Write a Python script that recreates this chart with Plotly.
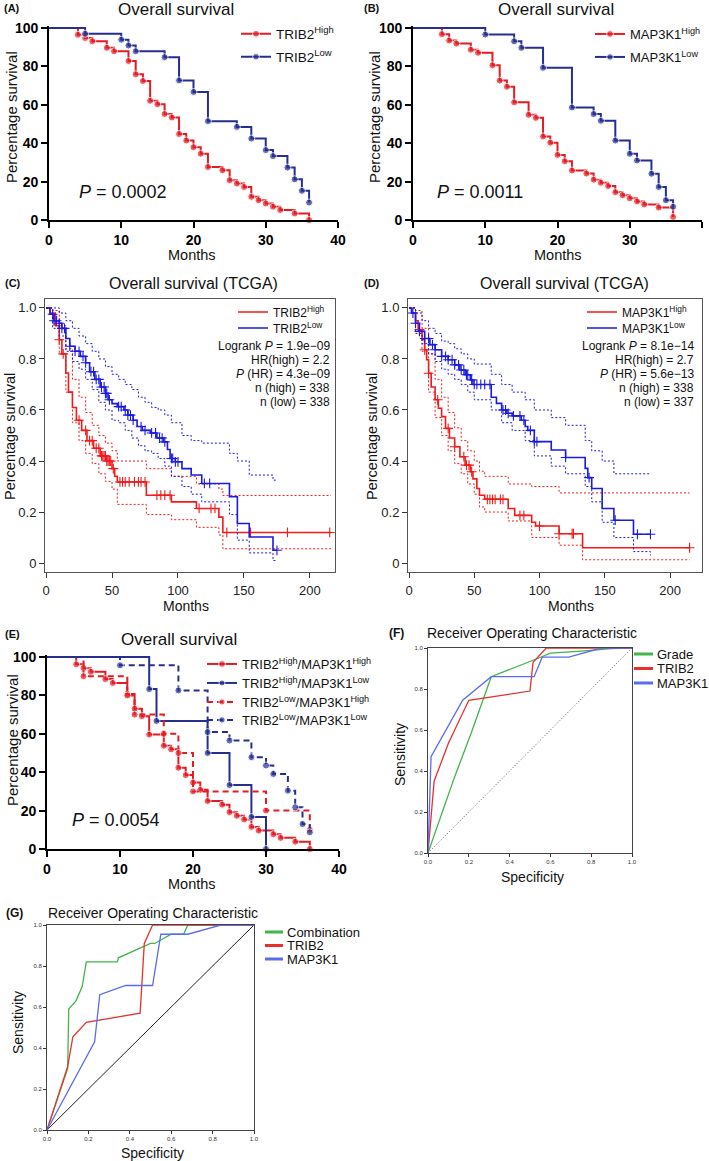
import numpy as np
import plotly.graph_objects as go

W, H = 709, 1161
FONT = "Liberation Sans, Arial, Helvetica, sans-serif"

RED = "#e31b23"
BLUE = "#262f8f"
TRED = "#f21a1a"
TBLUE = "#1a1ae0"
R_GREEN = "#3fb54a"
R_RED = "#e8302c"
R_BLUE = "#5b6bf2"

# ---------------- data ----------------
km_xticks = [0, 10, 20, 30, 40]
km_yticks = [0, 20, 40, 60, 80, 100]

# (A) TRIB2
a_high_t = [0, 4, 5, 6, 8, 9, 11, 12, 13, 14, 15, 16, 17, 18, 19, 20, 21, 22, 24, 25, 26, 27, 28, 29, 30, 31, 32, 34, 36]
a_high_s = [100, 96.5, 94.8, 93.1, 89.7, 87.9, 82.8, 75.9, 72.4, 62.1, 60.3, 55.2, 53.4, 44.8, 41.4, 37.9, 34.5, 27.6, 25.9, 20.7, 19.0, 17.2, 12.1, 10.3, 8.6, 6.9, 5.2, 3.4, 0]
a_low_t = [0, 5, 10, 11, 12, 16, 18, 20, 22, 26, 28, 30, 31, 33, 34, 35, 36]
a_low_s = [100, 97.0, 93.9, 90.9, 87.9, 84.8, 72.7, 66.7, 51.5, 48.5, 42.4, 36.4, 33.3, 27.3, 21.2, 15.2, 9.1]

# (B) MAP3K1
b_high_t = [0, 4, 5, 6, 8, 9, 11, 12, 13, 14, 16, 17, 18, 19, 20, 21, 22, 24, 25, 26, 27, 28, 29, 30, 31, 32, 34, 36]
b_high_s = [100, 96.8, 93.5, 91.9, 88.7, 87.1, 80.6, 72.6, 69.4, 61.3, 54.8, 53.2, 43.5, 40.3, 33.9, 30.6, 25.8, 24.2, 21.0, 19.4, 17.7, 14.5, 12.9, 11.3, 9.7, 8.1, 6.5, 1.6]
b_low_t = [0, 10, 14, 15, 18, 22, 25, 26, 28, 30, 31, 33, 34, 35, 36]
b_low_s = [100, 96.6, 93.1, 89.7, 79.3, 58.6, 55.2, 51.7, 41.4, 34.5, 31.0, 24.1, 17.2, 10.3, 6.9]

# (C) TCGA TRIB2
tcga_xticks = [0, 50, 100, 150, 200]
tcga_yticks = [0, 0.2, 0.4, 0.6, 0.8, 1.0]
tcga_yticktext = ["0", "0.2", "0.4", "0.6", "0.8", "1.0"]
c_high_t = [0, 3, 7, 10, 12, 15, 17, 20, 23, 27, 31, 36, 41, 46, 50, 52, 54, 76, 95, 114, 131, 134, 216]
c_high_s = [1.0, 0.98, 0.93, 0.875, 0.82, 0.745, 0.67, 0.61, 0.56, 0.52, 0.48, 0.45, 0.42, 0.40, 0.37, 0.34, 0.318, 0.266, 0.24, 0.214, 0.18, 0.12, 0.12]
c_low_t = [0, 3, 6, 10, 12, 15, 18, 22, 26, 30, 33, 37, 41, 45, 47, 50, 54, 59, 62, 66, 69, 73, 79, 84, 89, 92, 94, 98, 103, 110, 118, 139, 145, 154, 172, 175]
c_low_s = [1.0, 0.975, 0.95, 0.94, 0.92, 0.88, 0.85, 0.83, 0.81, 0.785, 0.75, 0.72, 0.69, 0.665, 0.64, 0.625, 0.613, 0.60, 0.58, 0.56, 0.535, 0.52, 0.51, 0.49, 0.475, 0.445, 0.41, 0.397, 0.37, 0.345, 0.312, 0.26, 0.155, 0.102, 0.05, 0.05]
c_ci_t_high = [0, 5, 10, 15, 20, 25, 30, 35, 40, 45, 50, 54, 76, 95, 114, 131, 134, 216]
c_high_up = [1.0, 0.99, 0.93, 0.84, 0.72, 0.65, 0.59, 0.54, 0.50, 0.47, 0.44, 0.40, 0.37, 0.34, 0.31, 0.29, 0.265, 0.265]
c_high_lo = [1.0, 0.94, 0.82, 0.67, 0.55, 0.48, 0.43, 0.39, 0.35, 0.32, 0.29, 0.23, 0.19, 0.17, 0.14, 0.11, 0.056, 0.056]
c_ci_t_low = [0, 5, 10, 15, 20, 25, 30, 35, 40, 45, 50, 55, 60, 65, 70, 75, 80, 85, 90, 95, 103, 110, 118, 139, 145, 154, 172, 175]
c_low_up = [1.0, 1.0, 0.98, 0.95, 0.92, 0.89, 0.86, 0.83, 0.80, 0.77, 0.74, 0.72, 0.70, 0.68, 0.65, 0.63, 0.61, 0.60, 0.58, 0.55, 0.50, 0.48, 0.47, 0.43, 0.40, 0.345, 0.325, 0.325]
c_low_lo = [1.0, 0.92, 0.89, 0.83, 0.79, 0.76, 0.72, 0.68, 0.63, 0.60, 0.56, 0.55, 0.52, 0.49, 0.46, 0.44, 0.43, 0.41, 0.38, 0.34, 0.30, 0.27, 0.24, 0.19, 0.09, 0.04, 0.01, 0.01]
c_high_cens = [10, 13, 25, 30, 33, 35, 38, 40, 42, 43, 44, 45, 46, 47, 48, 49, 51, 56, 58, 60, 63, 67, 70, 72, 75, 84, 87, 90, 94, 116, 125, 128, 137, 155, 183, 215]
c_low_cens = [5, 6, 8, 10, 12, 14, 18, 22, 25, 28, 30, 34, 36, 38, 40, 42, 44, 45, 46, 48, 55, 57, 60, 62, 64, 66, 72, 75, 80, 83, 86, 88, 90, 95, 96, 98, 100, 120, 124, 175]
c_stats = ["Logrank <i>P</i> = 1.9e\u221209", "HR(high) = 2.2", "<i>P</i> (HR) = 4.3e\u221209", "n (high) = 338", "n (low) = 338"]

# (D) TCGA MAP3K1
d_high_t = [0, 2, 5, 7, 10, 12, 13.5, 15, 17, 20, 22.5, 25, 28, 31, 35, 39, 43, 47, 49, 52, 54, 58, 76, 81, 94, 97, 115, 133, 215]
d_high_s = [1, 0.98, 0.95, 0.915, 0.875, 0.836, 0.797, 0.744, 0.69, 0.64, 0.607, 0.574, 0.528, 0.49, 0.456, 0.417, 0.384, 0.358, 0.33, 0.292, 0.266, 0.25, 0.214, 0.187, 0.16, 0.145, 0.115, 0.06, 0.06]
d_low_t = [0, 2, 5, 8, 12, 16, 20, 25, 30, 35, 39, 43, 47, 49, 63, 67, 71, 75, 79, 86, 89, 91, 96, 109, 120, 135, 137, 140, 148, 157, 172, 185]
d_low_s = [1, 0.98, 0.94, 0.908, 0.88, 0.856, 0.836, 0.81, 0.797, 0.777, 0.757, 0.738, 0.718, 0.70, 0.65, 0.626, 0.60, 0.587, 0.577, 0.56, 0.535, 0.52, 0.476, 0.443, 0.414, 0.371, 0.335, 0.292, 0.214, 0.168, 0.113, 0.113]
d_ci_t_high = [0, 5, 10, 15, 20, 25, 30, 35, 40, 45, 50, 54, 58, 76, 94, 115, 133, 215]
d_high_up = [1.0, 0.99, 0.92, 0.82, 0.72, 0.65, 0.59, 0.53, 0.48, 0.44, 0.40, 0.36, 0.34, 0.31, 0.30, 0.275, 0.275, 0.275]
d_high_lo = [1.0, 0.91, 0.83, 0.67, 0.57, 0.50, 0.44, 0.39, 0.35, 0.31, 0.27, 0.22, 0.20, 0.165, 0.10, 0.07, 0.013, 0.013]
d_ci_t_low = [0, 5, 10, 15, 20, 25, 30, 35, 40, 45, 50, 63, 71, 79, 89, 96, 109, 120, 135, 140, 148, 157, 172, 185]
d_low_up = [1.0, 0.98, 0.95, 0.92, 0.90, 0.87, 0.86, 0.84, 0.82, 0.80, 0.78, 0.74, 0.70, 0.67, 0.64, 0.60, 0.57, 0.54, 0.48, 0.44, 0.40, 0.35, 0.35, 0.35]
d_low_lo = [1.0, 0.90, 0.86, 0.82, 0.79, 0.76, 0.74, 0.72, 0.70, 0.67, 0.64, 0.60, 0.55, 0.52, 0.48, 0.42, 0.38, 0.35, 0.30, 0.24, 0.16, 0.10, 0.045, 0.03]
d_high_cens = [8, 12, 15, 22, 30, 35, 42, 44, 46, 48, 60, 62, 64, 66, 70, 72, 85, 88, 100, 115, 125, 126, 215]
d_low_cens = [3, 5, 8, 12, 15, 18, 20, 25, 28, 30, 33, 35, 38, 40, 42, 44, 45, 48, 50, 52, 55, 58, 62, 72, 74, 76, 80, 85, 88, 93, 96, 98, 120, 138, 158, 175, 185]
d_stats = ["Logrank <i>P</i> = 8.1e\u221214", "HR(high) = 2.7", "<i>P</i> (HR) = 5.6e\u221213", "n (high) = 338", "n (low) = 337"]

# (E) combined groups
e_hh_t = [0, 4, 5, 6, 8, 9, 11, 12, 13, 14, 16, 17, 18, 19, 20, 21, 22, 24, 25, 26, 27, 28, 29, 31, 32, 34, 36]
e_hh_s = [100, 96.2, 94.2, 92.3, 88.5, 86.5, 80.8, 73.1, 69.2, 59.6, 53.8, 51.9, 42.3, 38.5, 34.6, 30.8, 25.0, 23.1, 19.2, 17.3, 15.4, 11.5, 9.6, 7.7, 5.8, 3.8, 0]
e_hl_t = [0, 14, 15, 22, 25, 28, 30]
e_hl_s = [100, 83.3, 66.7, 50.0, 33.3, 16.7, 0]
e_lh_t = [0, 5, 11, 12, 16, 18, 20, 30, 36]
e_lh_s = [100, 90, 80, 70, 60, 50, 30, 20, 10]
e_ll_t = [0, 10, 18, 22, 25, 28, 30, 31, 33, 34, 35, 36]
e_ll_s = [100, 95.7, 82.6, 60.9, 56.5, 47.8, 43.5, 39.1, 30.4, 21.7, 13.0, 8.7]

# (F) ROC
roc_ticks = [0, 0.2, 0.4, 0.6, 0.8, 1.0]
roc_ticktext = ["0.0", "0.2", "0.4", "0.6", "0.8", "1.0"]
diag = [0, 1]
f_grade_x = [0, 0.13, 0.21, 0.26, 0.31, 0.54, 0.60, 0.75, 0.90, 1.0]
f_grade_y = [0, 0.37, 0.58, 0.72, 0.86, 0.95, 0.975, 0.985, 0.997, 1.0]
f_trib2_x = [0, 0.03, 0.10, 0.20, 0.50, 0.515, 0.58, 1.0]
f_trib2_y = [0, 0.35, 0.535, 0.745, 0.79, 0.93, 1.0, 1.0]
f_map_x = [0, 0.015, 0.17, 0.31, 0.52, 0.56, 0.69, 0.85, 1.0]
f_map_y = [0, 0.47, 0.745, 0.86, 0.86, 0.955, 0.955, 1.0, 1.0]

# (G) ROC
g_comb_x = [0, 0.10, 0.105, 0.14, 0.17, 0.19, 0.34, 0.345, 0.50, 0.52, 0.60, 0.66, 0.68, 1.0]
g_comb_y = [0, 0.30, 0.59, 0.63, 0.70, 0.82, 0.82, 0.84, 0.91, 0.91, 0.955, 0.955, 1.0, 1.0]
g_trib2_x = [0, 0.10, 0.125, 0.19, 0.45, 0.47, 0.51, 1.0]
g_trib2_y = [0, 0.31, 0.455, 0.525, 0.57, 0.91, 1.0, 1.0]
g_map_x = [0, 0.23, 0.255, 0.38, 0.51, 0.55, 0.68, 0.84, 1.0]
g_map_y = [0, 0.43, 0.66, 0.705, 0.705, 0.955, 0.955, 1.0, 1.0]


# ---------------- helpers ----------------
def PX(x):
    return x / W


def PY(y):
    return 1 - y / H


def dom_x(a, b):
    return [a / W, b / W]


def dom_y(top, bottom):
    return [1 - bottom / H, 1 - top / H]


def step_at(t, s, times):
    idx = np.searchsorted(np.array(t), np.array(times), side="right") - 1
    return list(np.array(s)[idx])


fig = go.Figure()
legends = {}
leg_count = [0]


def new_legend(left_px, cy_px, size):
    leg_count[0] += 1
    key = "legend" if leg_count[0] == 1 else "legend%d" % leg_count[0]
    legends[key] = dict(x=PX(left_px), y=PY(cy_px), xanchor="left", yanchor="middle",
                        bgcolor="rgba(0,0,0,0)", borderwidth=0,
                        font=dict(family=FONT, size=size, color="#111"))
    return key


def km_trace(t, s, color, name, ax, leg, dash="solid"):
    sizes = [0] + [7] * (len(t) - 1)
    fig.add_trace(go.Scatter(
        x=t, y=s, mode="lines+markers", name=name,
        line=dict(shape="hv", color=color, width=2, dash=dash),
        marker=dict(size=sizes, color=color, symbol="circle"),
        xaxis="x" + ax, yaxis="y" + ax, legend=leg, cliponaxis=False, showlegend=True))


def tcga_trace(t, s, ci_t, up, lo, cens, color, name, ax, leg):
    for arr in (up, lo):
        fig.add_trace(go.Scatter(x=ci_t, y=arr, mode="lines", showlegend=False,
                                 line=dict(shape="hv", color=color, width=1, dash="2px,2px"),
                                 xaxis="x" + ax, yaxis="y" + ax))
    fig.add_trace(go.Scatter(x=t, y=s, mode="lines", name=name, legend=leg,
                             line=dict(shape="hv", color=color, width=1.6),
                             xaxis="x" + ax, yaxis="y" + ax))
    fig.add_trace(go.Scatter(x=cens, y=step_at(t, s, cens), mode="markers", showlegend=False,
                             marker=dict(symbol="cross-thin", size=7, line=dict(color=color, width=1.1)),
                             xaxis="x" + ax, yaxis="y" + ax, cliponaxis=False))


def roc_trace(x, y, color, name, ax):
    fig.add_trace(go.Scatter(x=x, y=y, mode="lines", name=name, showlegend=False,
                             line=dict(color=color, width=1.3), xaxis="x" + ax, yaxis="y" + ax))


# ---------------- traces ----------------
# A
km_trace(a_high_t, a_high_s, RED, "TRIB2<sup>High</sup>", "", new_legend(236, 34, 13.5))
km_trace(a_low_t, a_low_s, BLUE, "TRIB2<sup>Low</sup>", "", new_legend(236, 57, 13.5))
# B
km_trace(b_high_t, b_high_s, RED, "MAP3K1<sup>High</sup>", "2", new_legend(590, 34, 13))
km_trace(b_low_t, b_low_s, BLUE, "MAP3K1<sup>Low</sup>", "2", new_legend(590, 57, 13))
# C
tcga_trace(c_high_t, c_high_s, c_ci_t_high, c_high_up, c_high_lo, c_high_cens, TRED, "TRIB2<sup>High</sup>", "3", new_legend(233, 312, 12))
tcga_trace(c_low_t, c_low_s, c_ci_t_low, c_low_up, c_low_lo, c_low_cens, TBLUE, "TRIB2<sup>Low</sup>", "3", new_legend(233, 328, 12))
# D
tcga_trace(d_high_t, d_high_s, d_ci_t_high, d_high_up, d_high_lo, d_high_cens, TRED, "MAP3K1<sup>High</sup>", "4", new_legend(582, 312, 12))
tcga_trace(d_low_t, d_low_s, d_ci_t_low, d_low_up, d_low_lo, d_low_cens, TBLUE, "MAP3K1<sup>Low</sup>", "4", new_legend(582, 328, 12))
# E
km_trace(e_hh_t, e_hh_s, RED, "TRIB2<sup>High</sup>/MAP3K1<sup>High</sup>", "5", new_legend(202, 664, 13))
km_trace(e_hl_t, e_hl_s, BLUE, "TRIB2<sup>High</sup>/MAP3K1<sup>Low</sup>", "5", new_legend(202, 683, 13))
km_trace(e_lh_t, e_lh_s, RED, "TRIB2<sup>Low</sup>/MAP3K1<sup>High</sup>", "5", new_legend(202, 702, 13), dash="6px,4px")
km_trace(e_ll_t, e_ll_s, BLUE, "TRIB2<sup>Low</sup>/MAP3K1<sup>Low</sup>", "5", new_legend(202, 720, 13), dash="6px,4px")
# F
fig.add_trace(go.Scatter(x=diag, y=diag, mode="lines", showlegend=False,
                         line=dict(color="#333", width=0.8, dash="1px,2px"), xaxis="x6", yaxis="y6"))
roc_trace(f_grade_x, f_grade_y, R_GREEN, "Grade", "6")
roc_trace(f_trib2_x, f_trib2_y, R_RED, "TRIB2", "6")
roc_trace(f_map_x, f_map_y, R_BLUE, "MAP3K1", "6")
# G
fig.add_trace(go.Scatter(x=diag, y=diag, mode="lines", showlegend=False,
                         line=dict(color="#222", width=1), xaxis="x7", yaxis="y7"))
roc_trace(g_comb_x, g_comb_y, R_GREEN, "Combination", "7")
roc_trace(g_trib2_x, g_trib2_y, R_RED, "TRIB2", "7")
roc_trace(g_map_x, g_map_y, R_BLUE, "MAP3K1", "7")

# ---------------- axes ----------------
def gp_x(dom, anchor):
    return dict(domain=dom, anchor=anchor, range=[0, 40], tickvals=km_xticks, ticks="outside",
                ticklen=6, tickwidth=1.6, tickcolor="black", showline=True, linewidth=1.8,
                linecolor="black", showgrid=False, zeroline=False,
                tickfont=dict(family=FONT, size=14, color="black", weight="bold"))


def gp_y(dom, anchor):
    return dict(domain=dom, anchor=anchor, range=[0, 101], tickvals=km_yticks, ticks="outside",
                ticklen=6, tickwidth=1.6, tickcolor="black", showline=True, linewidth=1.8,
                linecolor="black", showgrid=False, zeroline=False,
                tickfont=dict(family=FONT, size=14, color="black", weight="bold"))


def r_x(dom, anchor, rng):
    return dict(domain=dom, anchor=anchor, range=rng, tickvals=tcga_xticks, ticks="outside",
                ticklen=5, tickwidth=1, tickcolor="#333", showline=True, mirror=True, linewidth=1,
                linecolor="#555", showgrid=False, zeroline=False, ticklabelstandoff=1,
                tickfont=dict(family=FONT, size=13, color="#222"))


def r_y(dom, anchor):
    return dict(domain=dom, anchor=anchor, range=[-0.035, 1.035], tickvals=tcga_yticks,
                ticktext=tcga_yticktext, ticks="outside", ticklen=5, tickwidth=1, tickcolor="#333",
                showline=True, mirror=True, linewidth=1, linecolor="#555", showgrid=False,
                zeroline=False, tickfont=dict(family=FONT, size=13, color="#222"))


def s_ax(dom, anchor):
    return dict(domain=dom, anchor=anchor, range=[0, 1], tickvals=roc_ticks, ticktext=roc_ticktext,
                ticks="outside", ticklen=3, tickwidth=0.8, tickcolor="#333", showline=True,
                mirror=True, linewidth=1, linecolor="#444", showgrid=False, zeroline=False,
                tickfont=dict(family=FONT, size=6, color="#333"))


layout = dict(
    width=W, height=H, margin=dict(l=0, r=0, t=0, b=0, autoexpand=False),
    paper_bgcolor="white", plot_bgcolor="rgba(0,0,0,0)",
    font=dict(family=FONT, color="#111"), showlegend=True,
    xaxis=gp_x(dom_x(49, 338), "y"), yaxis=gp_y(dom_y(26.1, 220), "x"),
    xaxis2=gp_x(dom_x(413, 702), "y2"), yaxis2=gp_y(dom_y(26.1, 220), "x2"),
    xaxis3=r_x(dom_x(45, 335), "y3", [-0.8, 219]), yaxis3=r_y(dom_y(299, 572), "x3"),
    xaxis4=r_x(dom_x(408, 702), "y4", [-0.77, 224.5]), yaxis4=r_y(dom_y(299, 572), "x4"),
    xaxis5=gp_x(dom_x(47, 339), "y5"), yaxis5=gp_y(dom_y(655.1, 849), "x5"),
    xaxis6=s_ax(dom_x(428, 632), "y6"), yaxis6=s_ax(dom_y(648, 853), "x6"),
    xaxis7=s_ax(dom_x(47, 254), "y7"), yaxis7=s_ax(dom_y(925, 1130), "x7"),
)
layout.update(legends)

ann = []


def text(x, y, s, size, xanchor="center", bold=False, angle=0, color="#111", yanchor="middle"):
    ann.append(dict(x=PX(x), y=PY(y), xref="paper", yref="paper", text=s, showarrow=False,
                    xanchor=xanchor, yanchor=yanchor, textangle=angle,
                    font=dict(family=FONT, size=size, color=color, weight="bold" if bold else "normal")))


# A
text(2, 8, "(A)", 11, "left", bold=True)
text(176, 10, "Overall survival", 17)
text(77, 192, "<i>P</i> = 0.0002", 18, "left")
text(12, 117, "Percentage survival", 15, angle=-90)
text(192, 255, "Months", 14.5)
# B
text(362, 8, "(B)", 11, "left", bold=True)
text(556, 10, "Overall survival", 17)
text(435, 192, "<i>P</i> = 0.0011", 18, "left")
text(375, 117, "Percentage survival", 15, angle=-90)
text(558, 255, "Months", 14.5)
# C
text(3, 283, "(C)", 11, "left", bold=True)
text(193, 283, "Overall survival (TCGA)", 16)
text(10, 437, "Percentage survival", 14.5, angle=-90)
text(186, 606, "Months", 14)
for i, s in enumerate(c_stats):
    text(332, 346 + 14 * i, s, 12, "right")
# D
text(362, 283, "(D)", 11, "left", bold=True)
text(564, 283, "Overall survival (TCGA)", 16)
text(372, 437, "Percentage survival", 14.5, angle=-90)
text(571, 606, "Months", 14)
for i, s in enumerate(d_stats):
    text(696, 346 + 14 * i, s, 12, "right")
# E
text(3, 634, "(E)", 11, "left", bold=True)
text(179, 639, "Overall survival", 17)
text(70, 820, "<i>P</i> = 0.0054", 18, "left")
text(12, 740, "Percentage survival", 15, angle=-90)
text(192, 884, "Months", 14.5)
# F
text(387, 633, "(F)", 12, "left", bold=True)
text(532, 633, "Receiver Operating Characteristic", 14)
text(400, 755, "Sensitivity", 14, angle=-90)
text(532, 877, "Specificity", 14)
# G
text(4, 913, "(G)", 12, "left", bold=True)
text(153, 913, "Receiver Operating Characteristic", 14)
text(18, 1023, "Sensitivity", 14, angle=-90)
text(152, 1153, "Specificity", 14)

# ROC legends (keys + labels)
shapes = []
f_leg = [("Grade", R_GREEN), ("TRIB2", R_RED), ("MAP3K1", R_BLUE)]
g_leg = [("Combination", R_GREEN), ("TRIB2", R_RED), ("MAP3K1", R_BLUE)]
for i, (lab, col) in enumerate(f_leg):
    y = 654 + 14.5 * i
    shapes.append(dict(type="line", xref="paper", yref="paper", x0=PX(634), x1=PX(653),
                       y0=PY(y), y1=PY(y), line=dict(color=col, width=3)))
    text(655, y, lab, 13, "left")
for i, (lab, col) in enumerate(g_leg):
    y = 932 + 13.5 * i
    shapes.append(dict(type="line", xref="paper", yref="paper", x0=PX(265), x1=PX(283),
                       y0=PY(y), y1=PY(y), line=dict(color=col, width=3)))
    text(285, y, lab, 13, "left")

layout["annotations"] = ann
layout["shapes"] = shapes
fig.update_layout(**layout)
fig.write_html("out.html", config={"displayModeBar": False},
               post_script="document.body.style.margin='0px';document.body.style.overflow='hidden';")
